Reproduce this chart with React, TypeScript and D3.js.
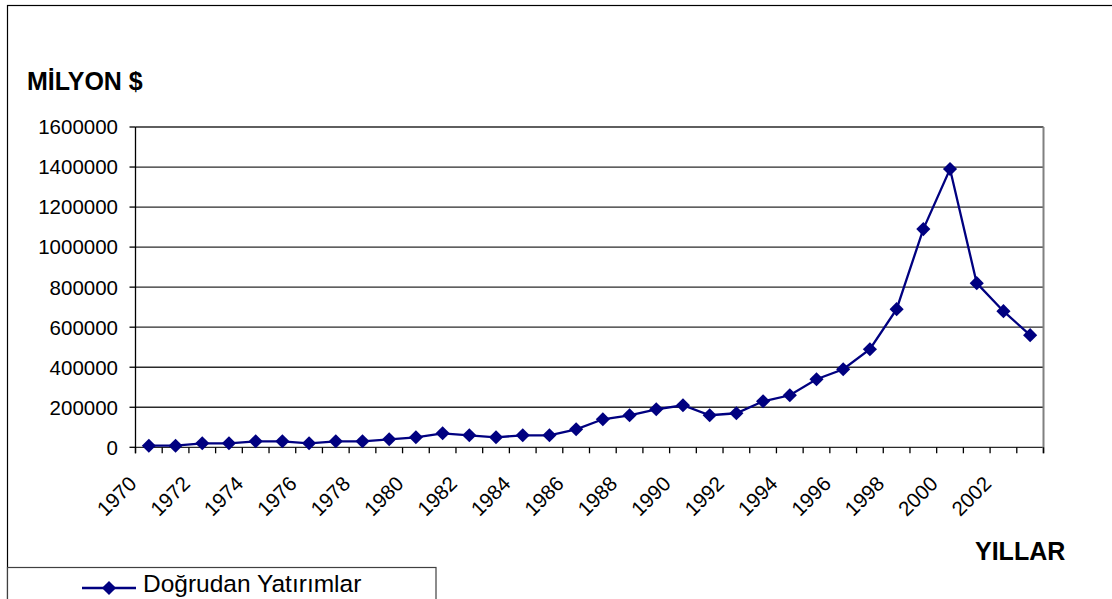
import React from "react";
import * as d3 from "d3";

const years: string[] = [
  "1970","1971","1972","1973","1974","1975","1976","1977","1978","1979",
  "1980","1981","1982","1983","1984","1985","1986","1987","1988","1989",
  "1990","1991","1992","1993","1994","1995","1996","1997","1998","1999",
  "2000","2001","2002","2003",
];
const values: number[] = [
  8000, 8000, 20000, 20000, 30000, 30000, 20000, 30000, 30000, 40000,
  50000, 70000, 60000, 50000, 60000, 60000, 90000, 140000, 160000, 190000,
  210000, 160000, 170000, 230000, 260000, 340000, 390000, 490000, 690000, 1090000,
  1390000, 820000, 680000, 560000,
];
const yTicks: number[] = [0, 200000, 400000, 600000, 800000, 1000000, 1200000, 1400000, 1600000];
const xLabelYears: string[] = years.filter((_, i) => i % 2 === 0 && i < 33);
const seriesName = "Doğrudan Yatırımlar";
const yTitle = "MİLYON $";
const xTitle = "YILLAR";

const FONT = "'Liberation Sans', Arial, Helvetica, sans-serif";
const NAVY = "#000080";

export default function App() {
  const W = 1112, H = 599;
  const left = 135.5, right = 1043.5, top = 127, bottom = 447.3;

  const x = d3.scaleBand<string>().domain(years).range([left, right]).padding(0);
  const bw = x.bandwidth();
  const cx = (yr: string) => (x(yr) as number) + bw / 2;
  const y = d3.scaleLinear().domain([0, 1600000]).range([bottom, top]);

  const line = d3
    .line<number>()
    .x((_, i) => cx(years[i]))
    .y((v) => y(v));

  const marker = d3.symbol(d3.symbolSquare, 100)() as string;

  const boundaries = d3.range(years.length + 1).map((i) => left + i * bw);

  return (
    <svg
      width={W}
      height={H}
      style={{ position: "absolute", left: 0, top: 0, background: "#fff" }}
      fontFamily={FONT}
    >
      {/* outer chart border */}
      <rect x={7.5} y={5.5} width={1200} height={700} fill="none" stroke="#000" strokeWidth={1.2} />

      {/* gridlines */}
      {yTicks.map((t) => (
        <line key={t} x1={left} x2={right} y1={y(t)} y2={y(t)} stroke="#2a2a2a" strokeWidth={1.3} />
      ))}

      {/* right border of plot */}
      <line x1={right} x2={right} y1={top} y2={bottom + 6} stroke="#808080" strokeWidth={2} />

      {/* y axis */}
      <line x1={left} x2={left} y1={top} y2={bottom + 6} stroke="#000" strokeWidth={1.3} />
      {yTicks.map((t) => (
        <g key={"yt" + t}>
          <line x1={left - 6} x2={left} y1={y(t)} y2={y(t)} stroke="#000" strokeWidth={1.3} />
          <text
            x={118}
            y={y(t)}
            dy="0.36em"
            textAnchor="end"
            fontSize={20.5}
            fill="#000"
          >
            {t}
          </text>
        </g>
      ))}

      {/* x ticks */}
      {boundaries.map((bx, i) => (
        <line key={"xt" + i} x1={bx} x2={bx} y1={bottom} y2={bottom + 6} stroke="#000" strokeWidth={1.3} />
      ))}
      {xLabelYears.map((yr) => (
        <text
          key={"xl" + yr}
          transform={`translate(${cx(yr) - 11},${485}) rotate(-45)`}
          textAnchor="end"
          fontSize={20.5}
          fill="#000"
        >
          {yr}
        </text>
      ))}

      {/* series */}
      <path d={line(values) as string} fill="none" stroke={NAVY} strokeWidth={2.3} />
      {values.map((v, i) => (
        <path
          key={"m" + i}
          d={marker}
          transform={`translate(${cx(years[i])},${y(v)}) rotate(45)`}
          fill={NAVY}
        />
      ))}

      {/* titles */}
      <text x={27} y={90} fontSize={25} fontWeight="bold" fill="#000">
        {yTitle}
      </text>
      <text x={975} y={560} fontSize={25} fontWeight="bold" fill="#000">
        {xTitle}
      </text>

      {/* legend */}
      <rect x={7.5} y={567.5} width={428.5} height={60} fill="#fff" stroke="#404040" strokeWidth={1.2} />
      <line x1={82} x2={136} y1={588} y2={588} stroke={NAVY} strokeWidth={2.3} />
      <path d={marker} transform={`translate(109,588) rotate(45)`} fill={NAVY} />
      <text x={143} y={592} fontSize={24.5} fill="#000">
        {seriesName}
      </text>
    </svg>
  );
}
